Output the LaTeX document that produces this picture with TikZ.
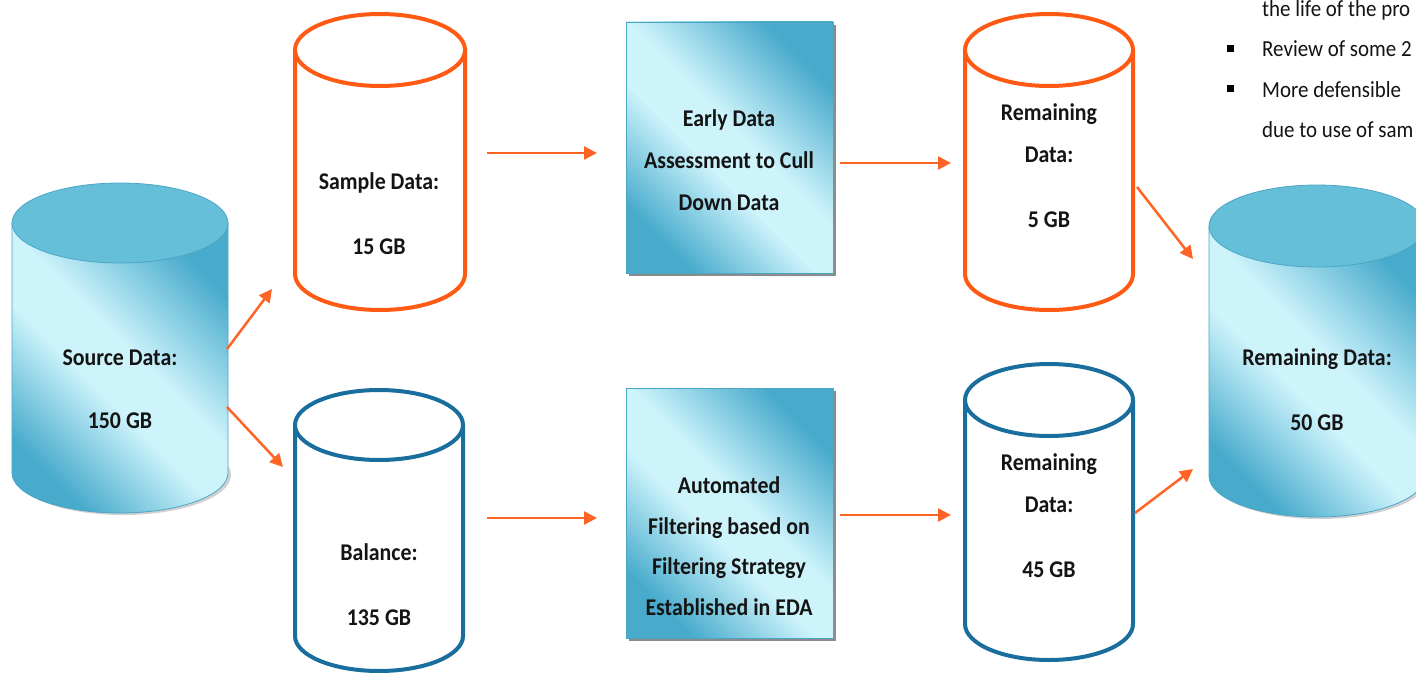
\documentclass[tikz,border=0pt]{standalone}
\usepackage{fontspec}
\setmainfont{Carlito}[FakeStretch=0.91]
\usetikzlibrary{arrows.meta}
\definecolor{org}{HTML}{FF5A14}
\definecolor{arr}{HTML}{FF6424}
\definecolor{blu}{HTML}{1A6E9E}
\definecolor{tdark}{HTML}{48ABCC}
\definecolor{tlight}{HTML}{CDF3FB}
\definecolor{ttop}{HTML}{66BFD8}
\definecolor{tedge}{HTML}{4BA6C6}
\definecolor{txt}{HTML}{141414}
\pgfdeclareverticalshading{tshade}{100bp}{color(0bp)=(tdark); color(25bp)=(tdark); color(44bp)=(tlight); color(54bp)=(tlight); color(75bp)=(tdark); color(100bp)=(tdark)}
\newcommand\outcyl[6]{%
  \fill[white] (#1-#2,#3) -- (#1-#2,#5) arc[start angle=180,end angle=360,x radius=#2pt,y radius=#4pt] -- (#1+#2,#3) -- cycle;
  \draw[#6,line width=4pt,line join=round] (#1-#2,#3) -- (#1-#2,#5) arc[start angle=180,end angle=360,x radius=#2pt,y radius=#4pt] -- (#1+#2,#3);
  \draw[#6,line width=4pt,fill=white] (#1,#3) ellipse[x radius=#2pt,y radius=#4pt];
}
\newcommand\shcyl[5]{%
  \fill[black!18] (#1+3,#5+2) ellipse[x radius=#2pt,y radius=#4pt];
  \shade[shading=tshade,shading angle=-45] (#1-#2,#3) -- (#1-#2,#5) arc[start angle=180,end angle=360,x radius=#2pt,y radius=#4pt] -- (#1+#2,#3) -- cycle;
  \draw[tedge,line width=0.8pt] (#1-#2,#3) -- (#1-#2,#5) arc[start angle=180,end angle=360,x radius=#2pt,y radius=#4pt] -- (#1+#2,#3);
  \draw[tedge,line width=0.8pt,fill=ttop] (#1,#3) ellipse[x radius=#2pt,y radius=#4pt];
}
\newcommand\shbox[4]{%
  \fill[black!45] (#1+3,#2+3) rectangle (#3+3,#4+3);
  \shade[shading=tshade,shading angle=-45] (#1,#2) rectangle (#3,#4);
  \draw[tedge,line width=0.8pt] (#1,#2) rectangle (#3,#4);
}
\tikzset{
  lbl/.style={font=\fontsize{24}{42}\selectfont\bfseries, text=txt, align=center, inner sep=0pt},
  note/.style={font=\fontsize{23}{26}\selectfont, text=txt, anchor=base west, inner sep=0pt},
  arrowst/.style={draw=arr, line width=2.5pt, -{Triangle[length=13pt,width=13pt]}},
}
\begin{document}
\begin{tikzpicture}[x=1pt,y=-1pt]
\useasboundingbox (0,0) rectangle (1416,677);
\fill[white] (0,0) rectangle (1416,677);

% shaded cylinders
\shcyl{120}{108}{223}{40}{473}
\shcyl{1317}{108}{226}{41}{476}
% outline cylinders
\outcyl{380}{85}{50}{36}{274}{org}
\outcyl{1049}{84}{50}{36}{274}{org}
\outcyl{379}{84}{425}{35}{636}{blu}
\outcyl{1049}{84}{400}{36}{624}{blu}
% boxes
\shbox{626}{22}{833}{273}
\shbox{626}{388}{833}{638}

% labels
\node[lbl] (src) at (120,389) {Source Data:\\[21pt]150 GB};
\node[lbl] (smp) at (379,214) {Sample Data:\\[23pt]15 GB};
\node[lbl] (bal) at (379,585) {Balance:\\[23pt]135 GB};
\node[lbl] (r5) at (1049,166) {Remaining\\Data:\\[23pt]5 GB};
\node[lbl] (r45) at (1049,516) {Remaining\\Data:\\[23pt]45 GB};
\node[lbl] (r50) at (1317,390) {Remaining Data:\\[23pt]50 GB};
\node[lbl] (eda) at (729,160) {Early Data\\Assessment to Cull\\Down Data};
\node[lbl, font=\fontsize{24}{40.5}\selectfont\bfseries] (aut) at (729,546) {Automated\\Filtering based on\\Filtering Strategy\\Established in EDA};

% top right notes
\node[note] (n0) at (1262,17) {the life of the pro};
\node[note] (n1) at (1262,57) {Review of some 2};
\node[note] (n2) at (1262,97) {More defensible};
\node[note] (n3) at (1262,137) {due to use of sam};
\fill[black] (1227,45) rectangle (1234,52);
\fill[black] (1227,85) rectangle (1234,92);

% connectors
\coordinate (s1) at (227,349); \coordinate (t1) at (272,289);
\coordinate (s2) at (227,407); \coordinate (t2) at (283,467);
\coordinate (s3) at (487,153); \coordinate (t3) at (597,153);
\coordinate (s4) at (487,518); \coordinate (t4) at (597,518);
\coordinate (s5) at (840,163); \coordinate (t5) at (951,163);
\coordinate (s6) at (840,515); \coordinate (t6) at (951,515);
\coordinate (s7) at (1137,187); \coordinate (t7) at (1193,259);
\coordinate (s8) at (1135,513); \coordinate (t8) at (1193,469);
\foreach \i in {1,...,8} \draw[arrowst] (s\i) -- (t\i);
\end{tikzpicture}
\end{document}
